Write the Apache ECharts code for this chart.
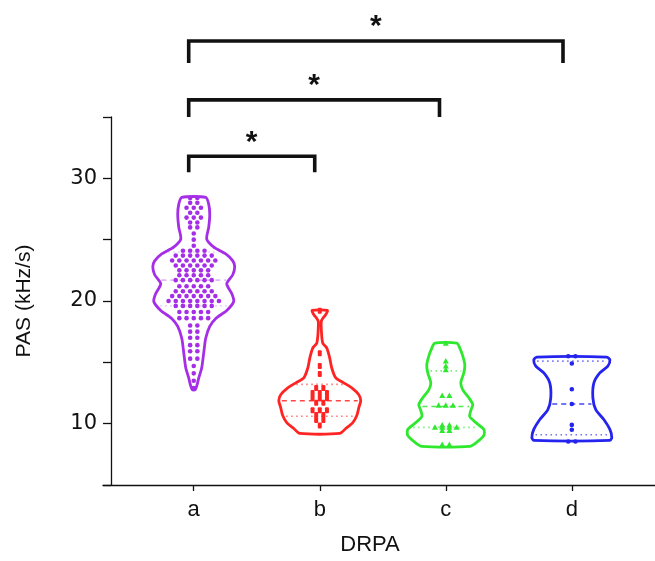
<!DOCTYPE html>
<html>
<head>
<meta charset="utf-8">
<script src="https://cdn.jsdelivr.net/npm/echarts@6/dist/echarts.min.js"></script>
<style>
  html, body { margin: 0; padding: 0; background: #fff; }
  #chart { width: 655px; height: 561px; }
</style>
</head>
<body>
<div id="chart"></div>
<script>
// categories on the x axis (placed at 1..4)
const categories = ['a', 'b', 'c', 'd']
const yLabels = [10, 20, 30]
const colors = ['#a52ee6', '#ff2424', '#2ee82e', '#2424ee']
const symbols = ['circle', 'rect', 'triangle', 'circle']

// violin outlines: [value, half width in category units], top -> bottom
const outlineA = [[28.44, 0.095], [27.88, 0.119], [27.07, 0.127], [26.02, 0.119], [25.05, 0.103],
  [24.40, 0.159], [23.84, 0.254], [23.27, 0.310], [22.79, 0.325], [22.14, 0.310], [21.41, 0.262],
  [20.60, 0.302], [19.96, 0.317], [19.23, 0.262], [18.58, 0.175], [17.93, 0.127], [16.96, 0.095],
  [15.75, 0.079], [14.54, 0.063], [13.73, 0.040], [13.08, 0.024], [12.76, 0.012]]
const outlineB = [[19.23, 0.060], [18.90, 0.048], [18.58, 0.024], [18.34, 0.012], [17.37, 0.014],
  [16.56, 0.024], [16.16, 0.056], [15.35, 0.079], [14.54, 0.095], [13.73, 0.127], [13.33, 0.190],
  [12.92, 0.254], [12.36, 0.310], [11.87, 0.325], [11.31, 0.310], [10.66, 0.294], [10.09, 0.262],
  [9.61, 0.206], [9.20, 0.159]]
const outlineC = [[16.56, 0.087], [16.16, 0.111], [15.51, 0.135], [14.78, 0.151], [14.14, 0.143],
  [13.33, 0.119], [12.76, 0.135], [12.11, 0.183], [11.55, 0.214], [11.06, 0.198], [10.58, 0.190],
  [10.09, 0.238], [9.53, 0.302], [9.04, 0.302], [8.56, 0.254], [8.15, 0.190]]
const outlineD = [[15.43, 0.278], [15.19, 0.302], [14.70, 0.286], [14.14, 0.222], [13.33, 0.175],
  [12.11, 0.167], [11.14, 0.190], [10.34, 0.254], [9.53, 0.302], [8.88, 0.317], [8.64, 0.302]]

// individual observations
const valuesA = [28.4, 28.4, 28.0, 28.0, 27.6, 27.6, 27.6, 27.2, 27.2, 26.8, 26.8, 26.8, 26.4, 26.4,
  26.0, 26.0, 25.5, 25.0, 24.5, 24.1, 24.1, 24.1, 24.1, 23.7, 23.7, 23.7, 23.7, 23.7, 23.7,
  23.3, 23.3, 23.3, 23.3, 23.3, 23.3, 23.3, 22.9, 22.9, 22.9, 22.9, 22.9, 22.9,
  22.5, 22.5, 22.5, 22.5, 22.5, 22.1, 22.1, 22.1, 22.1, 22.1, 21.7, 21.7, 21.7, 21.7, 21.7, 21.7,
  21.2, 21.2, 21.2, 21.2, 21.2, 20.8, 20.8, 20.8, 20.8, 20.8, 20.8,
  20.4, 20.4, 20.4, 20.4, 20.4, 20.4, 20.4, 20.0, 20.0, 20.0, 20.0, 20.0, 20.0, 20.0, 20.0,
  19.6, 19.6, 19.6, 19.6, 19.6, 19.6, 19.1, 19.1, 19.1, 19.1, 19.1, 18.6, 18.6, 18.6, 18.6, 18.6,
  18.0, 18.0, 17.5, 17.5, 17.0, 17.0, 16.4, 16.4, 15.9, 15.9, 15.3, 15.3, 14.7, 14.1, 13.5, 12.9]
const valuesB = [19.2, 15.75, 14.7, 14.05, 12.9, 12.9, 12.5, 12.5, 12.5, 12.1, 12.1, 12.1, 11.7, 11.7,
  11.1, 11.1, 11.1, 10.7, 10.7, 10.3, 10.3, 9.85]
const valuesC = [16.56, 15.1, 14.7, 14.4, 12.3, 12.3, 11.5, 11.5, 11.5, 9.9, 9.9, 9.7, 9.7, 9.7, 9.7,
  9.45, 9.45, 8.3, 8.3]
const valuesD = [15.5, 15.5, 14.9, 12.8, 11.6, 9.9, 9.5, 8.55, 8.55]

// median and quartiles
const medians = [21.7, 11.87, 11.4, 11.6]
const lowerQ = [19.6, 10.6, 9.7, 9.1]
const upperQ = [24.0, 13.2, 14.3, 15.1]

// significance brackets
const bracketFrom = [0.96, 0.96, 0.96]
const bracketTo = [1.96, 2.95, 3.93]
const bracketTop = [31.8, 36.4, 41.2]
const bracketDrop = [30.5, 35.0, 39.4]
const bracketMark = ['*', '*', '*']

const outlines = [outlineA, outlineB, outlineC, outlineD]
const values = [valuesA, valuesB, valuesC, valuesD]

// half width of a violin at value v
function widthAt(outline, v) {
    for (let i = 0; i < outline.length - 1; i++) {
        const [v1, w1] = outline[i], [v2, w2] = outline[i + 1]
        if (v <= v1 && v >= v2) return w1 + (w2 - w1) * (v1 - v) / (v1 - v2)
    }
    return 0
}

function renderViolin(params, api) {
    const i = params.dataIndex
    const x0 = api.value(0)
    const outline = outlines[i]
    const color = colors[i]
    const right = outline.map(p => api.coord([x0 + p[1], p[0]]))
    const left = outline.map(p => api.coord([x0 - p[1], p[0]])).reverse()
    const children = []

    const hline = (v, dash, op) => {
        const w = widthAt(outline, v)
        const p1 = api.coord([x0 - w, v]), p2 = api.coord([x0 + w, v])
        return {
            type: 'line',
            shape: { x1: p1[0] + 3, y1: p1[1], x2: p2[0] - 3, y2: p2[1] },
            style: { stroke: color, lineWidth: 1.6, lineDash: dash, opacity: op }
        }
    }
    const op = i === 0 ? 0.35 : 0.85
    children.push(hline(medians[i], [5, 4], op))
    children.push(hline(lowerQ[i], [1.5, 3.5], op * 0.75))
    children.push(hline(upperQ[i], [1.5, 3.5], op * 0.75))

    // dots, spread side by side when values repeat
    const counts = {}
    values[i].forEach(v => { counts[v] = (counts[v] || 0) + 1 })
    const seen = {}
    const step = 7.2
    values[i].forEach(v => {
        const n = counts[v]
        const k = seen[v] = (seen[v] === undefined ? 0 : seen[v] + 1)
        const c = api.coord([x0, v])
        const x = c[0] + (k - (n - 1) / 2) * step
        const sym = symbols[i]
        if (sym === 'circle') {
            children.push({ type: 'circle', shape: { cx: x, cy: c[1], r: 2.3 }, style: { fill: color } })
        } else if (sym === 'rect') {
            children.push({ type: 'rect', shape: { x: x - 2, y: c[1] - 3, width: 4, height: 6, r: 1 }, style: { fill: color } })
        } else {
            children.push({ type: 'polygon', shape: { points: [[x, c[1] - 3], [x + 3, c[1] + 2.5], [x - 3, c[1] + 2.5]] }, style: { fill: color } })
        }
    })

    children.push({
        type: 'polygon',
        shape: { points: right.concat(left), smooth: 0.25 },
        style: { fill: 'none', stroke: color, lineWidth: 2.8, lineJoin: 'round' }
    })
    return { type: 'group', children: children }
}

function renderBracket(params, api) {
    const i = params.dataIndex
    const a1 = api.coord([bracketFrom[i], bracketDrop[i]])
    const a2 = api.coord([bracketFrom[i], bracketTop[i]])
    const b2 = api.coord([bracketTo[i], bracketTop[i]])
    const b1 = api.coord([bracketTo[i], bracketDrop[i]])
    return {
        type: 'group',
        children: [{
            type: 'polyline',
            shape: { points: [a1, a2, b2, b1] },
            style: { stroke: '#111', lineWidth: 3.6, fill: 'none', lineJoin: 'miter', lineCap: 'butt' }
        }, {
            type: 'text',
            style: {
                text: bracketMark[i], x: (a2[0] + b2[0]) / 2, y: a2[1] - 14,
                align: 'center', verticalAlign: 'middle',
                font: 'bold 30px "Liberation Sans", Arial, sans-serif', fill: '#111'
            }
        }]
    }
}

const myChart = echarts.init(document.getElementById('chart'))
myChart.setOption({
    backgroundColor: '#fff',
    animation: false,
    grid: { left: 103, right: 0, top: 117, bottom: 73 },
    xAxis: {
        type: 'value', min: 0.28, max: 4.66,
        name: 'DRPA', nameLocation: 'middle', nameGap: 49,
        nameTextStyle: { fontSize: 22, color: '#111', fontFamily: 'Liberation Sans', padding: [0, 18, 0, 0] },
        axisLine: { lineStyle: { color: '#111', width: 1.3 } },
        axisTick: { customValues: [1, 2, 3, 4], length: 6, lineStyle: { color: '#111', width: 1.3 } },
        axisLabel: {
            customValues: [1, 2, 3, 4], formatter: v => categories[v - 1],
            fontSize: 22, color: '#111', fontFamily: 'Liberation Sans', margin: 14
        },
        splitLine: { show: false }
    },
    yAxis: {
        type: 'value', min: 5, max: 35, interval: 5, offset: -8,
        name: 'PAS (kHz/s)', nameLocation: 'middle', nameGap: 76, nameRotate: 90,
        nameTextStyle: { fontSize: 21, color: '#111', fontFamily: 'Liberation Sans' },
        axisLine: { show: true, lineStyle: { color: '#111', width: 1.3 } },
        axisTick: { show: true, length: 8, lineStyle: { color: '#111', width: 1.3 } },
        axisLabel: {
            formatter: v => yLabels.includes(v) ? String(v) : '',
            fontSize: 21, color: '#111', fontFamily: 'DejaVu Sans', margin: 14
        },
        splitLine: { show: false }
    },
    series: [{
        type: 'custom',
        renderItem: renderViolin,
        data: categories.map((c, i) => [i + 1]),
        clip: false
    }, {
        type: 'custom',
        renderItem: renderBracket,
        data: bracketTo.map((v, i) => [bracketFrom[i], v]),
        clip: false
    }]
})
</script>
</body>
</html>
